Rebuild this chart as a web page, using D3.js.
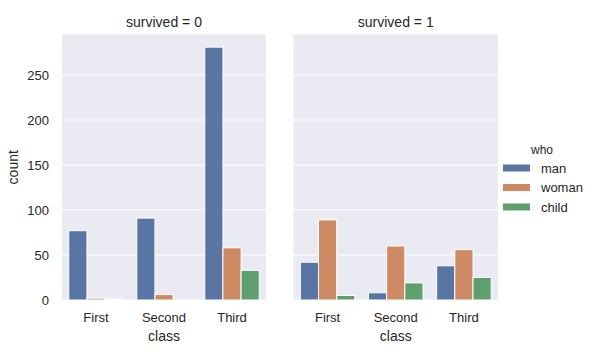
<!DOCTYPE html>
<html><head><meta charset="utf-8">
<script src="https://cdn.jsdelivr.net/npm/d3@7"></script>
<style>body{margin:0;background:#fff;} text{font-family:"Liberation Sans",Arial,sans-serif;fill:#262626;}</style>
</head><body><svg id="c" width="597" height="360"></svg>
<script>
const classes = ["First","Second","Third"];
const who = ["man","woman","child"];
const panels = ["survived = 0","survived = 1"];
const man0 = [77, 91, 281], woman0 = [2, 6, 58], child0 = [1, 0, 33];
const man1 = [42, 8, 38], woman1 = [89, 60, 56], child1 = [5, 19, 25];
const yTicks = [0, 50, 100, 150, 200, 250];
const colors = ["#5975a4", "#cc8963", "#5f9e6e"];

(function () {
const data = [[man0, woman0, child0], [man1, woman1, child1]];
const svg = d3.select("#c");
const pTop = 34.5, pBottom = 300;
const panelX = [[62, 266], [293.5, 498]];
const y = d3.scaleLinear().domain([0, 295.05]).range([pBottom, pTop]);

panels.forEach((title, pi) => {
  const [x0, x1] = panelX[pi];
  const g = svg.append("g");
  g.append("rect").attr("x", x0).attr("y", pTop).attr("width", x1 - x0).attr("height", pBottom - pTop).attr("fill", "#eaeaf2");
  yTicks.forEach(t => {
    g.append("line").attr("x1", x0).attr("x2", x1).attr("y1", y(t)).attr("y2", y(t)).attr("stroke", "#fff").attr("stroke-width", 1);
  });
  const xb = d3.scaleBand().domain(classes).range([x0, x1]).padding(0);
  const inner = xb.bandwidth() * 0.8, off = xb.bandwidth() * 0.1;
  const xh = d3.scaleBand().domain(who).range([off, off + inner]).padding(0);
  classes.forEach((c, ci) => {
    who.forEach((w, wi) => {
      const v = data[pi][wi][ci];
      g.append("rect")
        .attr("x", xb(c) + xh(w))
        .attr("y", y(v))
        .attr("width", xh.bandwidth())
        .attr("height", y(0) - y(v))
        .attr("fill", colors[wi])
        .attr("stroke", "#fff").attr("stroke-width", 1);
    });
    g.append("text").attr("x", xb(c) + xb.bandwidth() / 2).attr("y", 322)
      .attr("text-anchor", "middle").attr("font-size", 13).text(c);
  });
  g.append("text").attr("x", (x0 + x1) / 2).attr("y", 27).attr("text-anchor", "middle").attr("font-size", 14).text(title);
  g.append("text").attr("x", (x0 + x1) / 2).attr("y", 341).attr("text-anchor", "middle").attr("font-size", 14).text("class");
  if (pi === 0) {
    yTicks.forEach(t => {
      g.append("text").attr("x", 49).attr("y", y(t) + 4.5).attr("text-anchor", "end").attr("font-size", 13).text(t);
    });
    g.append("text").attr("transform", `translate(18,${(pTop + pBottom) / 2}) rotate(-90)`)
      .attr("text-anchor", "middle").attr("font-size", 14).text("count");
  }
});

const lg = svg.append("g");
lg.append("text").attr("x", 542).attr("y", 154).attr("text-anchor", "middle").attr("font-size", 12).text("who");
who.forEach((w, i) => {
  const yy = 168 + i * 19.5;
  lg.append("rect").attr("x", 503).attr("y", yy - 3.5).attr("width", 27).attr("height", 7).attr("fill", colors[i]);
  lg.append("text").attr("x", 541).attr("y", yy + 4.5).attr("font-size", 13).text(w);
});
})();
</script></body></html>
